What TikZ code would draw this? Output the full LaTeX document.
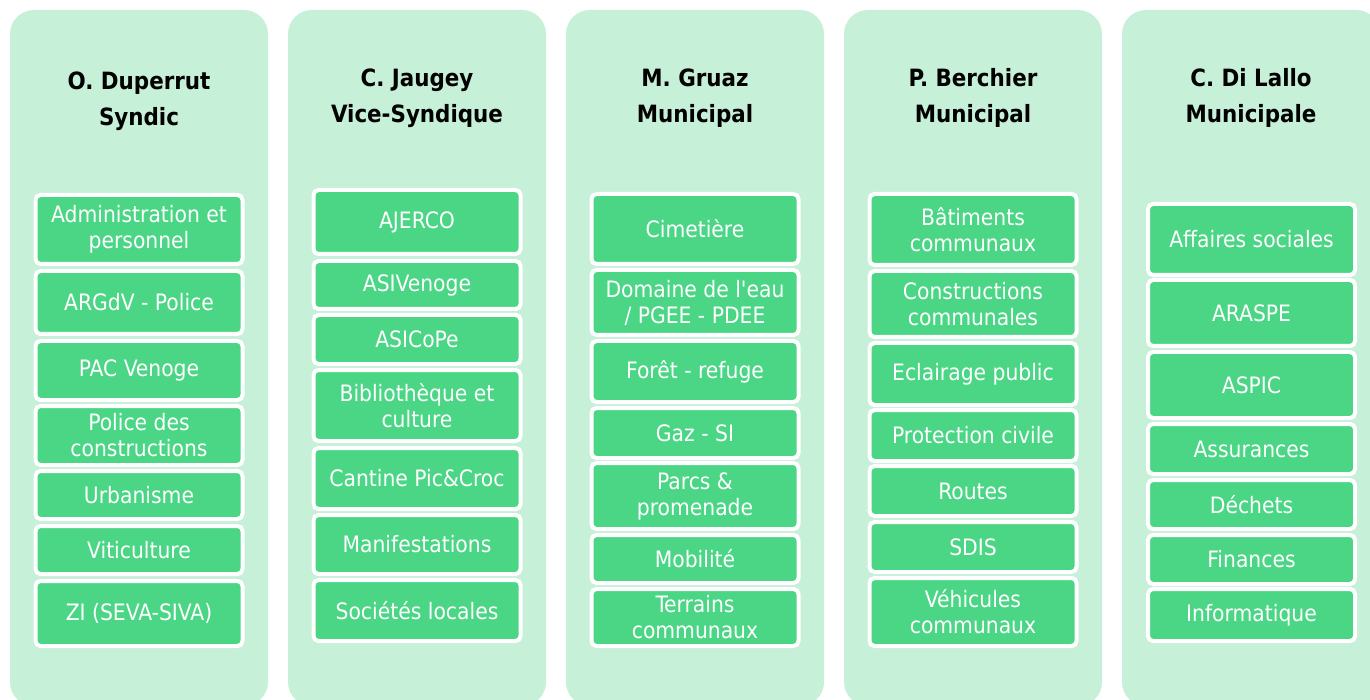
\documentclass[tikz,border=0pt]{standalone}
\usepackage{fontspec}
\setmainfont{DejaVu Sans Condensed}
\definecolor{panelgreen}{RGB}{198,240,215}
\definecolor{boxgreen}{RGB}{74,214,133}
\tikzset{
  panel/.style={fill=panelgreen, rounded corners=24pt, minimum width=258pt, inner sep=0pt, outer sep=0pt},
  itembox/.style={fill=boxgreen, draw=white, line width=4pt, rounded corners=5pt,
    minimum width=207pt, inner sep=0pt, outer sep=0pt, text=white, align=center,
    font=\fontsize{22.6}{26}\selectfont},
  titletext/.style={align=center, text=black, font=\fontsize{23.8}{36}\selectfont\bfseries}
}
\newcommand\itm[5]{\node[itembox, minimum height={(#4-#3-4)*1pt}] (#1) at (#2,{(#3+#4)/2}) {#5};}
\newcommand\pnl[2]{\node[panel, minimum height=696pt] (#1) at (#2,358) {};}
\begin{document}
\begin{tikzpicture}[x=1pt,y=-1pt]
\useasboundingbox (0,0) rectangle (1370,700);
\clip (0,0) rectangle (1370,700);
\fill[white] (0,0) rectangle (1370,700);
% panels
\pnl{p1}{139}
\pnl{p2}{417}
\pnl{p3}{695}
\pnl{p4}{973}
\pnl{p5}{1251}
% titles
\node[titletext] (t1) at (139,101.5) {O. Duperrut\\Syndic};
\node[titletext] (t2) at (417,98) {C. Jaugey\\Vice-Syndique};
\node[titletext] (t3) at (695,98) {M. Gruaz\\Municipal};
\node[titletext] (t4) at (973,98) {P. Berchier\\Municipal};
\node[titletext] (t5) at (1251,98) {C. Di Lallo\\Municipale};
% column 1
\itm{a1}{139}{193}{266}{Administration et\\personnel}
\itm{a2}{139}{269}{336}{ARGdV - Police}
\itm{a3}{139}{339}{402}{PAC Venoge}
\itm{a4}{139}{404}{467}{Police des\\constructions}
\itm{a5}{139}{469}{521}{Urbanisme}
\itm{a6}{139}{524}{576}{Viticulture}
\itm{a7}{139}{579}{648}{ZI (SEVA-SIVA)}
% column 2
\itm{b1}{417}{188}{256}{AJERCO}
\itm{b2}{417}{259}{311}{ASIVenoge}
\itm{b3}{417}{313}{366}{ASICoPe}
\itm{b4}{417}{368}{443}{Bibliothèque et\\culture}
\itm{b5}{417}{446}{511}{Cantine Pic\&Croc}
\itm{b6}{417}{513}{576}{Manifestations}
\itm{b7}{417}{578}{643}{Sociétés locales}
% column 3
\itm{c1}{695}{192}{266}{Cimetière}
\itm{c2}{695}{268}{337}{Domaine de l\textquotesingle eau\\/ PGEE - PDEE}
\itm{c3}{695}{339}{404}{Forêt - refuge}
\itm{c4}{695}{406}{460}{Gaz - SI}
\itm{c5}{695}{461}{531}{Parcs \&\\promenade}
\itm{c6}{695}{533}{585}{Mobilité}
\itm{c7}{695}{587}{648}{Terrains\\communaux}
% column 4
\itm{d1}{973}{192}{267}{Bâtiments\\communaux}
\itm{d2}{973}{269}{339}{Constructions\\communales}
\itm{d3}{973}{341}{407}{Eclairage public}
\itm{d4}{973}{408}{463}{Protection civile}
\itm{d5}{973}{464}{518}{Routes}
\itm{d6}{973}{520}{574}{SDIS}
\itm{d7}{973}{576}{648}{Véhicules\\communaux}
% column 5
\itm{e1}{1251.5}{202}{277}{Affaires sociales}
\itm{e2}{1251.5}{278}{348}{ARASPE}
\itm{e3}{1251.5}{350}{420}{ASPIC}
\itm{e4}{1251.5}{422}{476}{Assurances}
\itm{e5}{1251.5}{478}{531}{Déchets}
\itm{e6}{1251.5}{533}{586}{Finances}
\itm{e7}{1251.5}{587}{643}{Informatique}
\end{tikzpicture}
\end{document}
